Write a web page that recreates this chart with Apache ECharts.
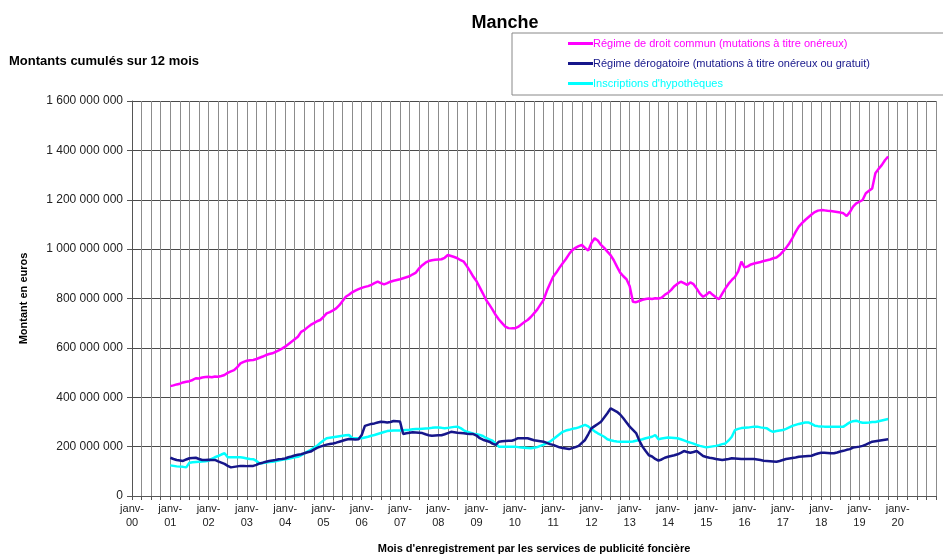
<!DOCTYPE html>
<html>
<head>
<meta charset="utf-8">
<script src="https://cdn.jsdelivr.net/npm/echarts@6/dist/echarts.min.js"></script>
<style>
  html, body { margin: 0; padding: 0; background: #fff; }
  #chart { width: 943px; height: 555px; }
</style>
</head>
<body>
<div id="chart"></div>
<script>
// mois (axe des catégories) : janv-00 ... janv-21
const MOIS = ['janv', 'févr', 'mars', 'avr', 'mai', 'juin', 'juil', 'août', 'sept', 'oct', 'nov', 'déc'];
const PREMIERE_ANNEE = 2000;
const DERNIERE_ANNEE = 2021;
const DEBUT_SERIES = 12; // les séries commencent en janv-01

const seriesNames = [
  'Régime de droit commun (mutations à titre onéreux)',
  'Régime dérogatoire (mutations à titre onéreux ou gratuit)',
  "Inscriptions d'hypothèques"
];

// montants en millions d'euros, un tableau de 12 mois par ligne (janv-01 -> oct-19)
const droitCommun = [
  445, 448, 452, 455, 460, 463, 465, 470, 477, 476, 480, 482,
  483, 481, 484, 483, 486, 490, 499, 505, 510, 522, 537, 543,
  548, 550, 551, 555, 560, 565, 571, 575, 578, 584, 590, 597,
  605, 615, 625, 635, 645, 665, 672, 683, 693, 700, 708, 713,
  725, 740, 745, 752, 760, 773, 790, 807, 815, 825, 832, 838,
  843, 847, 850, 855, 862, 868, 862, 857, 862, 868, 872, 875,
  878, 882, 886, 890, 898, 905, 922, 935, 945, 952, 955, 957,
  958, 959, 965, 976, 972, 968, 963, 955, 949, 930, 910, 888,
  870, 845, 820, 794, 775, 755, 733, 715, 700, 686, 680, 679,
  679, 685, 695, 705, 713, 725, 740, 755, 775, 794, 830, 860,
  888, 905, 925, 943, 960, 980, 996, 1005, 1012, 1017, 1005, 994,
  1025, 1044, 1035, 1017, 1005, 990, 976, 955, 929, 905, 890, 878,
  850, 787, 785, 790, 795, 798, 800, 798, 801, 800, 803, 815,
  823, 835, 850, 860, 868, 862, 855, 865, 858, 840, 820, 807,
  815, 827, 815, 805, 797, 820, 841, 860, 875, 888, 910, 949,
  926, 930, 938, 942, 945, 948, 952, 955, 958, 963, 966, 976,
  990, 1005, 1023, 1045, 1070, 1091, 1105, 1118, 1129, 1140, 1150, 1156,
  1158, 1157, 1155, 1154, 1152, 1150, 1148, 1145, 1134, 1150, 1172, 1185,
  1192, 1199, 1226, 1236, 1246, 1307, 1325, 1340, 1360, 1375
];

const derogatoire = [
  155, 150, 146, 144, 142, 148, 153, 154, 155, 150, 146, 146,
  147, 146, 146, 140, 135, 130, 122, 116, 118, 120, 122, 122,
  121, 122, 122, 126, 132, 135, 139, 142, 144, 146, 149, 150,
  152, 157, 160, 164, 167, 169, 173, 177, 180, 188, 195, 200,
  204, 208, 211, 213, 216, 220, 224, 228, 231, 230, 229, 230,
  247, 284, 288, 292, 294, 298, 301, 300, 298, 300, 304, 303,
  302, 251, 254, 256, 258, 257, 256, 255, 250, 246, 244, 245,
  246, 246, 250, 255, 260, 258, 256, 255, 254, 252, 251, 251,
  245, 234, 228, 224, 220, 212, 207, 220, 222, 223, 224, 224,
  228, 234, 234, 234, 234, 230, 226, 224, 222, 220, 215, 210,
  207, 202, 197, 194, 192, 190, 194, 198, 203, 215, 227, 250,
  274, 283, 292, 301, 318, 335, 355, 348, 341, 330, 315, 298,
  281, 268, 255, 225, 200, 182, 165, 160, 150, 143, 148, 155,
  159, 162, 165, 169, 175, 182, 178, 175, 178, 182, 172, 162,
  158, 155, 153, 150, 148, 146, 148, 150, 153, 152, 151, 150,
  150, 150, 150, 150, 148, 146, 143, 142, 141, 140, 139, 142,
  146, 150, 152, 154, 156, 159, 160, 161, 162, 163, 168, 172,
  175, 175, 174, 173, 173, 176, 180, 183, 187, 190, 196, 198,
  200, 203, 208, 214, 220, 222, 224, 226, 228, 230
];

const hypotheques = [
  124, 122, 120, 119, 118, 116, 135, 137, 138, 139, 140, 141,
  143, 150, 157, 162, 168, 173, 157, 157, 157, 157, 157, 155,
  152, 150, 149, 142, 132, 134, 136, 138, 139, 141, 144, 147,
  149, 151, 154, 157, 159, 165, 172, 180, 187, 195, 203, 215,
  225, 234, 236, 238, 240, 242, 244, 246, 247, 235, 234, 234,
  234, 237, 240, 244, 247, 251, 255, 259, 263, 264, 265, 265,
  265, 266, 267, 268, 270, 271, 271, 272, 273, 274, 276, 277,
  277, 276, 274, 276, 278, 280, 281, 275, 266, 260, 256, 252,
  250, 247, 243, 235, 229, 224, 212, 200, 200, 200, 200, 200,
  200, 198, 196, 195, 194, 193, 195, 198, 203, 208, 214, 220,
  230, 240, 250, 260, 265, 268, 272, 274, 278, 283, 288, 282,
  271, 262, 254, 247, 240, 230, 226, 223, 221, 220, 220, 220,
  220, 221, 224, 227, 230, 234, 237, 240, 247, 230, 233, 235,
  237, 236, 235, 234, 230, 225, 220, 216, 212, 207, 203, 200,
  197, 199, 201, 203, 206, 210, 213, 225, 240, 267, 272, 275,
  276, 277, 279, 281, 281, 278, 276, 274, 265, 260, 263, 265,
  267, 272, 278, 284, 288, 292, 295, 298, 298, 292, 285, 283,
  282, 281, 281, 281, 281, 281, 281, 281, 290, 298, 303, 305,
  300, 297, 297, 298, 300, 300, 303, 306, 309, 312
];

const colors = ['#FF00FF', '#16168A', '#00FFFF'];

const categories = [];
for (let y = PREMIERE_ANNEE; y <= DERNIERE_ANNEE; y++) {
  for (let m = 0; m < 12; m++) {
    if (y === DERNIERE_ANNEE && m > 0) break;
    categories.push(MOIS[m] + '-' + String(y % 100).padStart(2, '0'));
  }
}
const lastIdx = categories.length - 1;

function toSeries(arr) {
  const out = new Array(DEBUT_SERIES).fill(null);
  arr.forEach(v => out.push(v * 1e6));
  return out;
}

function fmtNombre(v) {
  return String(v).replace(/\B(?=(\d{3})+(?!\d))/g, ' ');
}

const font = 'Liberation Sans, Arial, sans-serif';
const chart = echarts.init(document.getElementById('chart'));

chart.setOption({
  animation: false,
  backgroundColor: '#fff',
  title: [
    { text: 'Manche', left: 500, top: 9, textAlign: 'center',
      textStyle: { fontFamily: font, fontSize: 18, fontWeight: 'bold', color: '#000' } },
    { text: 'Montants cumulés sur 12 mois', left: 4, top: 50,
      textStyle: { fontFamily: font, fontSize: 13, fontWeight: 'bold', color: '#000' } }
  ],
  graphic: [
    { type: 'rect', shape: { x: 512, y: 33, width: 440, height: 62 },
      style: { fill: '#fff', stroke: '#888', lineWidth: 1 }, z: 0 }
  ],
  legend: {
    orient: 'vertical',
    left: 563, top: 33,
    itemGap: 9,
    itemWidth: 25, itemHeight: 3,
    icon: 'rect',
    textStyle: { fontFamily: font, fontSize: 11, padding: [0, 0, 0, -5] },
    data: seriesNames.map((n, i) => ({ name: n, textStyle: { color: colors[i] } })),
    z: 5
  },
  grid: { left: 132, right: 7, top: 101, bottom: 59, outerBoundsMode: 'none' },
  xAxis: {
    type: 'category',
    data: categories,
    boundaryGap: false,
    name: "Mois d'enregistrement par les services de publicité foncière",
    nameLocation: 'middle',
    nameGap: 47,
    nameTextStyle: { fontFamily: font, fontSize: 11, fontWeight: 'bold', color: '#000' },
    axisLine: { lineStyle: { color: '#555', width: 1 } },
    axisTick: { interval: i => i % 3 === 0, length: 4, lineStyle: { color: '#555' } },
    axisLabel: {
      interval: i => i % 12 === 0 && i < lastIdx,
      formatter: v => v.slice(0, 5) + '\n' + v.slice(-2),
      fontFamily: font, fontSize: 11, color: '#222', lineHeight: 14, margin: 6
    },
    splitLine: { show: true, interval: i => i % 3 === 0, lineStyle: { color: '#8c8c8c', width: 1 } }
  },
  yAxis: {
    type: 'value',
    min: 0, max: 1600000000, interval: 200000000,
    name: 'Montant en euros',
    nameLocation: 'middle',
    nameGap: 103,
    nameRotate: 90,
    nameTextStyle: { fontFamily: font, fontSize: 11, fontWeight: 'bold', color: '#000' },
    axisLine: { show: true, lineStyle: { color: '#555' } },
    axisTick: { show: true, length: 5, lineStyle: { color: '#555' } },
    axisLabel: { formatter: fmtNombre, fontFamily: font, fontSize: 12, color: '#222', margin: 9 },
    splitLine: { lineStyle: { color: '#4a4a4a', width: 1 } }
  },
  series: [droitCommun, derogatoire, hypotheques].map((arr, i) => ({
    name: seriesNames[i],
    type: 'line',
    data: toSeries(arr),
    showSymbol: false,
    lineStyle: { color: colors[i], width: 2.5 },
    itemStyle: { color: colors[i] },
    z: 3 - i
  }))
});
</script>
</body>
</html>
